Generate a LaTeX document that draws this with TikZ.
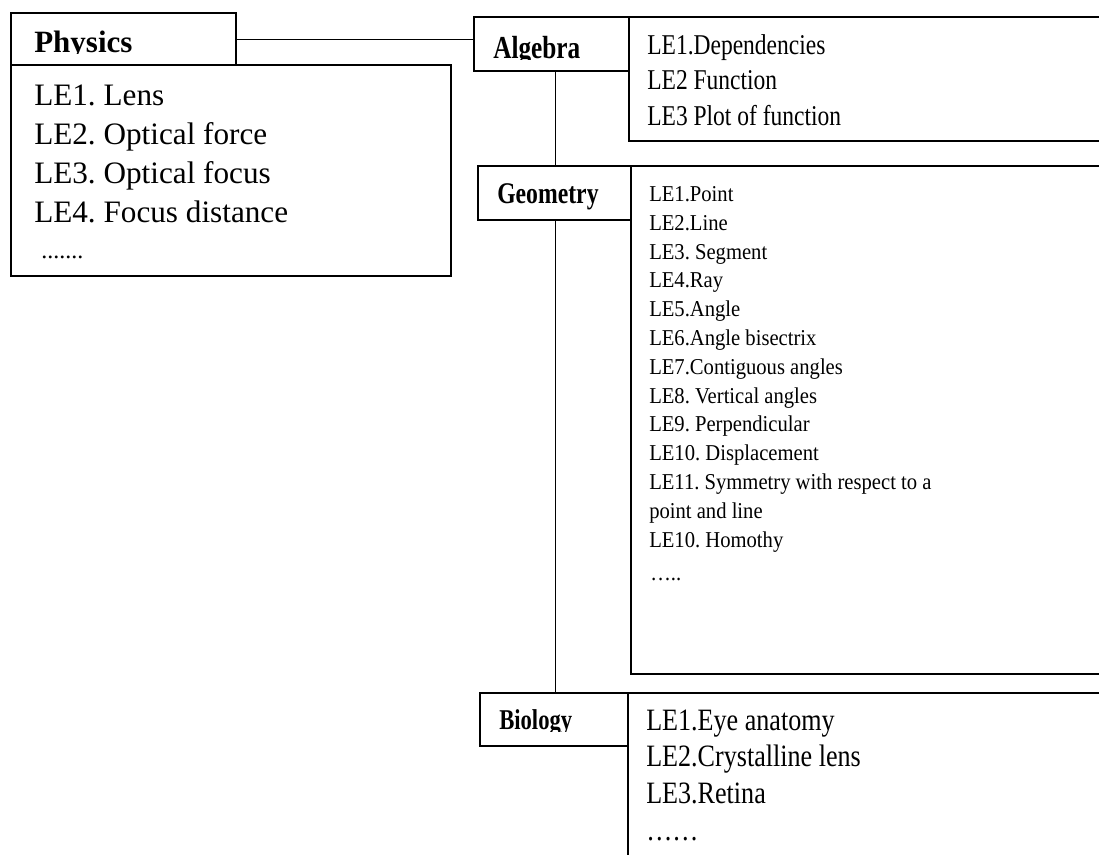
\documentclass[tikz,border=0pt]{standalone}
\usepackage{fontspec}
\setmainfont{Liberation Serif}
\newfontfamily\slimfont[FakeStretch=0.79]{Liberation Serif}
\newfontfamily\algfont[FakeStretch=0.82]{Liberation Serif}
\newfontfamily\geofont[FakeStretch=0.91]{Liberation Serif}
\newfontfamily\biofont[FakeStretch=0.84]{Liberation Serif}
\frenchspacing

\begin{document}
\begin{tikzpicture}[x=0.75pt, y=-0.75pt,
   box/.style={draw, line width=1.5pt, anchor=north west, inner sep=0pt},
   link/.style={line width=0.75pt},
   head/.style={anchor=base west, inner sep=0pt, font=\bfseries\fontsize{23.25}{28}\selectfont},
   items/.style={anchor=base west, inner sep=0pt, align=left}]
   \clip (0,0) rectangle (1099,854);

   % subject boxes
   \node(phyH)[box, minimum width=168.75pt, minimum height=39pt] at (10,12) {};
   \node(phyB)[box, minimum width=330pt, minimum height=158.25pt] at (10,64) {};
   \node(algH)[box, minimum width=116.25pt, minimum height=40.5pt] at (473,16) {};
   \node(algB)[box, minimum width=375pt, minimum height=93pt] at (628,16) {};
   \node(geoH)[box, minimum width=114.75pt, minimum height=40.5pt] at (477,165) {};
   \node(geoB)[box, minimum width=375pt, minimum height=381pt] at (630,165) {};
   \node(bioH)[box, minimum width=111pt, minimum height=39.75pt] at (479,692) {};
   \node(bioB)[box, minimum width=375pt, minimum height=150pt] at (627,692) {};

   % links
   \coordinate(trunk) at (555,0);
   \draw[link] (phyH.east) -- (phyH.east -| algH.west);
   \draw[link] (algH.south -| trunk) -- (geoH.north -| trunk);
   \draw[link] (geoH.south -| trunk) -- (bioH.north -| trunk);

   % subject names
   \begin{scope}
     \clip (10,12) rectangle (235,53) (473,16) rectangle (628,59) (479,692) rectangle (627,731);
     \node(phyT)[head] at (34,52) {Physics};
     \node(algT)[head, font=\slimfont\bfseries\fontsize{24}{28}\selectfont] at (493,58) {Algebra};
     \node(bioT)[head, font=\slimfont\bfseries\fontsize{21.5}{26}\selectfont] at (499,729) {Biology};
   \end{scope}
   \node(geoT)[head, font=\slimfont\bfseries\fontsize{22.5}{27}\selectfont] at (497,203) {Geometry};

   % learning elements (placed at the baseline of their last line)
   \node(phyL)[items, font=\fontsize{23.4}{29.25}\selectfont] at (34,222)
    {LE1. Lens\\LE2. Optical force\\LE3. Optical focus\\LE4. Focus distance};
   \node(phyD)[items, font=\fontsize{18}{20}\selectfont] at (41,258) {.......};

   \node(algL)[items, font=\algfont\fontsize{21.5}{26.6}\selectfont] at (647,125)
    {LE1.Dependencies\\LE2 Function\\LE3 Plot of function};

   \node(geoL)[items, font=\geofont\fontsize{17}{21.6}\selectfont] at (649,547)
    {LE1.Point\\LE2.Line\\LE3. Segment\\LE4.Ray\\LE5.Angle\\LE6.Angle bisectrix\\
     LE7.Contiguous angles\\LE8. Vertical angles\\LE9. Perpendicular\\LE10. Displacement\\
     LE11. Symmetry with respect to a\\point and line\\LE10. Homothy};
   \node(geoD)[items, font=\geofont\fontsize{17}{21.6}\selectfont] at (650,580) {…..};

   \node(bioL)[items, font=\biofont\fontsize{23.3}{27.5}\selectfont] at (646,840)
    {LE1.Eye anatomy\\LE2.Crystalline lens\\LE3.Retina\\……};
\end{tikzpicture}
\end{document}
